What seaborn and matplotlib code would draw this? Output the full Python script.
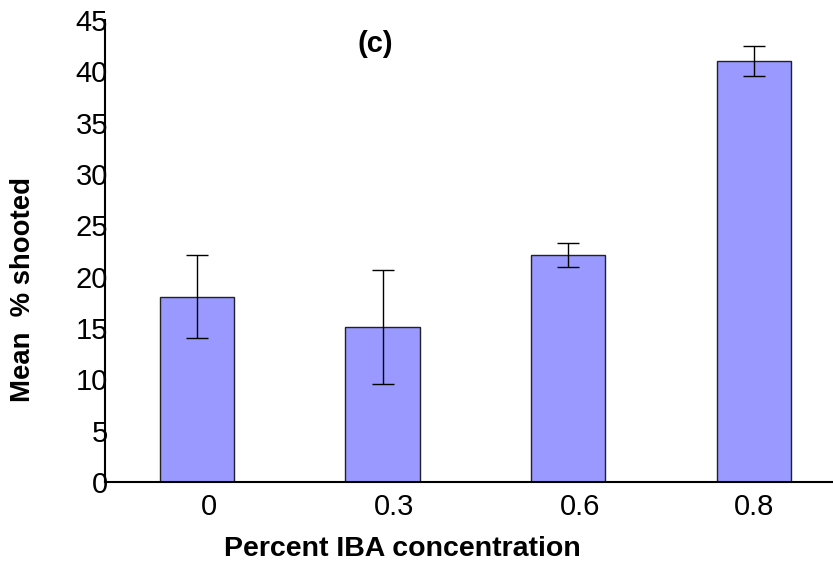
import matplotlib
matplotlib.use('Agg')
import matplotlib.pyplot as plt
from matplotlib.transforms import ScaledTranslation
import seaborn as sns
import pandas as pd
import numpy as np

categories = ['0', '0.3', '0.6', '0.8']
means = [18.05, 15.07, 22.1, 41.0]
errors = [4.04, 5.55, 1.2, 1.48]
yticks = [0, 5, 10, 15, 20, 25, 30, 35, 40, 45]

sns.set_theme(style='white')
plt.rcParams['font.family'] = ['Liberation Sans', 'DejaVu Sans']

fig = plt.figure(figsize=(8.33, 5.65), dpi=100)
ax = fig.add_axes([0.126, 0.147, 0.874, 0.8177])

df = pd.DataFrame({'conc': categories, 'mean': means})
sns.barplot(data=df, x='conc', y='mean', order=categories, color='#9999FF',
            saturation=1, width=0.4, edgecolor='#222222', linewidth=1,
            errorbar=None, ax=ax)
ax.errorbar(x=np.arange(len(categories)), y=means, yerr=errors, fmt='none',
            ecolor='black', elinewidth=1, capsize=8, capthick=1)

ax.set_ylim(0, 45)
ax.set_xlim(-0.495, 3.425)
ax.set_yticks(yticks)
ax.set_yticklabels([str(t) for t in yticks])

ax.tick_params(axis='both', length=0, labelsize=21, colors='black')
ax.tick_params(axis='y', pad=-2.2)
ax.tick_params(axis='x', pad=8)

for s in ['top', 'right']:
    ax.spines[s].set_visible(False)
for s in ['left', 'bottom']:
    ax.spines[s].set_color('black')
    ax.spines[s].set_linewidth(1.5)

offsets_px = [12, 11.5, 12, 0]
for lab, dx in zip(ax.get_xticklabels(), offsets_px):
    lab.set_transform(lab.get_transform() + ScaledTranslation(dx / 100, 0, fig.dpi_scale_trans))

ax.set_xlabel('Percent IBA concentration', fontsize=20.5, fontweight='bold', color='black')
ax.xaxis.label.set_va('center')
ax.xaxis.set_label_coords(0.409, -0.145)

ax.set_ylabel('Mean  % shooted', fontsize=19.8, fontweight='bold', color='black')
ax.yaxis.label.set_va('center')
ax.yaxis.set_label_coords(-0.112, 0.4156)

ax.text(0.372, 0.948, '(c)', transform=ax.transAxes, ha='center', va='center',
        fontsize=21, fontweight='bold', color='black')

fig.savefig('out.png', dpi=100)
